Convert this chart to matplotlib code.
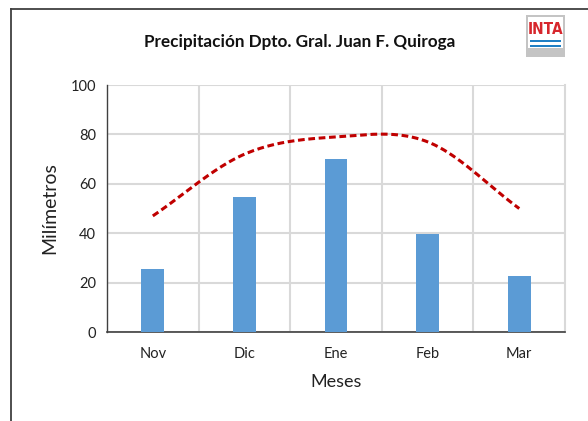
import numpy as np
import matplotlib.pyplot as plt
from matplotlib.patches import Rectangle
from matplotlib.lines import Line2D

plt.rcParams['font.family'] = ['Lato', 'DejaVu Sans']

meses = ['Nov', 'Dic', 'Ene', 'Feb', 'Mar']
precipitacion = [25.5, 54.5, 70.2, 39.6, 22.8]
tendencia = [47, 72, 79, 77, 50]


def suavizar(y, n=40):
    # curva tipo Catmull-Rom para la linea suavizada
    y = np.asarray(y, dtype=float)
    p = np.concatenate([[2 * y[0] - y[1]], y, [2 * y[-1] - y[-2]]])
    xs, ys = [], []
    for i in range(len(y) - 1):
        p0, p1, p2, p3 = p[i], p[i + 1], p[i + 2], p[i + 3]
        m1 = (p2 - p0) / 2
        m2 = (p3 - p1) / 2
        t = np.linspace(0, 1, n, endpoint=(i == len(y) - 2))
        h00 = 2 * t**3 - 3 * t**2 + 1
        h10 = t**3 - 2 * t**2 + t
        h01 = -2 * t**3 + 3 * t**2
        h11 = t**3 - t**2
        xs.append(i + t)
        ys.append(h00 * p1 + h10 * m1 + h01 * p2 + h11 * m2)
    return np.concatenate(xs), np.concatenate(ys)


fig = plt.figure(figsize=(5.88, 4.21), dpi=100)
ax = fig.add_axes([0.182, 0.2114, 0.779, 0.5866])

x = np.arange(len(meses))
ax.bar(x, precipitacion, width=0.25, color='#5b9bd5', zorder=3)

xs, ys = suavizar(tendencia)
ax.plot(xs, ys, color='#c00000', linestyle=(0, (2.2, 1.2)), linewidth=2.2, zorder=4)

ax.set_xlim(-0.5, len(meses) - 0.5)
ax.set_ylim(0, 100)
ax.set_yticks(range(0, 101, 20))
ax.set_xticks(x)
ax.set_xticklabels(meses, fontsize=10.5, color='#222222')
ax.tick_params(axis='y', labelsize=10.5, colors='#222222', length=0, pad=8)
ax.tick_params(axis='x', length=0, pad=11)

ax.grid(axis='y', color='#d9d9d9', linewidth=1.5, zorder=0)
for b in np.arange(0.5, len(meses) - 0.5, 1):
    ax.axvline(b, color='#d9d9d9', linewidth=1.5, zorder=0)

ax.spines['top'].set_visible(False)
ax.spines['right'].set_color('#d9d9d9')
ax.spines['right'].set_linewidth(1.5)
ax.spines['left'].set_color('#404040')
ax.spines['bottom'].set_color('#404040')
ax.spines['left'].set_linewidth(1.0)
ax.spines['bottom'].set_linewidth(1.2)

ax.set_ylabel('Milímetros', fontsize=14, color='#222222', labelpad=9)
ax.set_xlabel('Meses', fontsize=13, color='#222222', labelpad=9)

fig.text(0.51, 0.9, 'Precipitación Dpto. Gral. Juan F. Quiroga', ha='center', va='center',
         fontsize=12.3, fontweight='bold', color='#111111')

# marco exterior
fig.add_artist(Line2D([11 / 588, 11 / 588], [1 - 9 / 421, -0.1], color='#404040', linewidth=1.3))
fig.add_artist(Line2D([11 / 588, 1.1], [1 - 9 / 421, 1 - 9 / 421], color='#404040', linewidth=1.3))

# logo INTA
lx0, ly0, lw, lh = 526 / 588, 1 - 57 / 421, 39 / 588, 42 / 421
fig.add_artist(Rectangle((lx0, ly0), lw, lh, facecolor='#c4c4c4', edgecolor='none'))
fig.add_artist(Rectangle((lx0 + 2 / 588, ly0 + 9 / 421), lw - 4 / 588, lh - 11 / 421,
                         facecolor='white', edgecolor='none'))
fig.text(lx0 + lw / 2, ly0 + 27.5 / 421, 'INTA', ha='center', va='center', fontsize=11,
         fontweight='bold', color='#d7262c', family=['DejaVu Sans'],
         transform=fig.transFigure).set_stretch('condensed')
for top in (40, 45):
    fig.add_artist(Rectangle((lx0 + 4 / 588, 1 - (top + 2) / 421), lw - 8 / 588, 2.2 / 421,
                             facecolor='#1f7fc4', edgecolor='none'))

fig.savefig('out.png', dpi=100)
